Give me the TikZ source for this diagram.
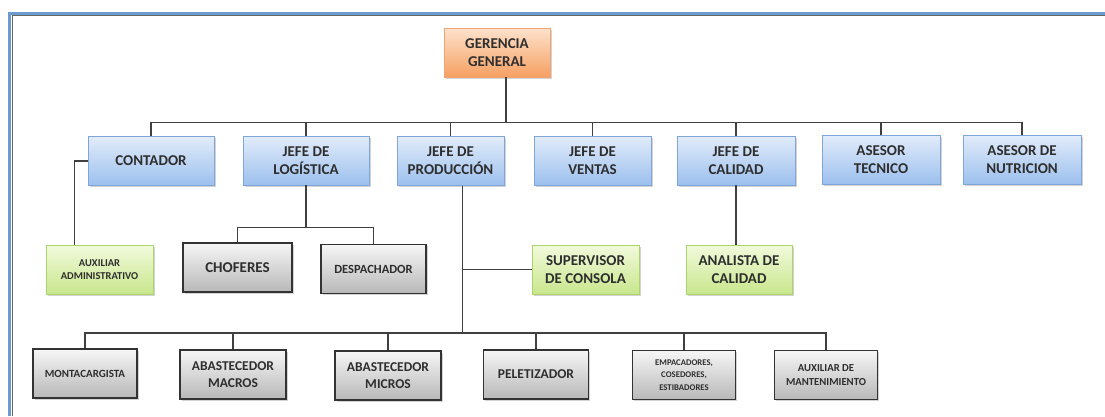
\documentclass[tikz,border=0pt]{standalone}
\usepackage{fontspec}
\setmainfont{Carlito}
\usetikzlibrary{positioning,shadows}
\definecolor{bluetop}{HTML}{E2ECFA}
\definecolor{bluebot}{HTML}{9CC0EE}
\definecolor{blueline}{HTML}{7FA6D8}
\definecolor{orangetop}{HTML}{FDE2CC}
\definecolor{orangebot}{HTML}{F6A062}
\definecolor{orangeline}{HTML}{F0A474}
\definecolor{greentop}{HTML}{F2FADC}
\definecolor{greenbot}{HTML}{C8E68C}
\definecolor{greenline}{HTML}{ADD46A}
\definecolor{greytop}{HTML}{F6F6F6}
\definecolor{greybot}{HTML}{B8B8B8}
\definecolor{frameblue}{HTML}{6C9BCF}

\begin{document}
\begin{tikzpicture}[
  x=1pt, y=-1pt,
  box/.style={rectangle, draw, line width=0.8pt, minimum width=118pt, minimum height=49pt, inner sep=2pt, align=center, text=black!82, font=\fontsize{15}{18}\selectfont\bfseries, drop shadow={shadow xshift=1.5pt, shadow yshift=-1.8pt, opacity=0.35}},
  gerente/.style={box, draw=orangeline, top color=orangetop, bottom color=orangebot},
  jefe/.style={box, draw=blueline, top color=bluetop, bottom color=bluebot},
  aux/.style={box, draw=greenline, top color=greentop, bottom color=greenbot},
  oper/.style={box, draw=black!80, line width=1.1pt, top color=greytop, bottom color=greybot},
  conn/.style={draw=black!75, line width=1.2pt},
]
\useasboundingbox (0,0) rectangle (1105,416);
% marco
\draw[frameblue, line width=3pt] (9.5,416) -- (9.5,13) -- (1105,13);
\draw[black!60, line width=0.8pt] (12,416) -- (12,15.5) -- (1105,15.5);

\node[gerente, minimum width=106pt] (gerencia) at (497,52.5) {GERENCIA\\GENERAL};
% nivel 1
\node[jefe, minimum width=126pt] (contador) at (151,161) {CONTADOR};
\node[jefe, minimum width=126pt] (logistica) at (306,160.5) {JEFE DE\\LOGÍSTICA};
\node[jefe, minimum width=107pt] (produccion) at (450.5,161) {JEFE DE\\PRODUCCIÓN};
\node[jefe, minimum width=117pt] (ventas) at (592.5,160.5) {JEFE DE\\VENTAS};
\node[jefe] (calidad) at (736,160.5) {JEFE DE\\CALIDAD};
\node[jefe] (tecnico) at (881,159.5) {ASESOR\\TECNICO};
\node[jefe] (nutricion) at (1022,159.5) {ASESOR DE\\NUTRICION};
% nivel 2
\node[aux, minimum width=107pt, font=\fontsize{10.5}{13}\selectfont\bfseries] (auxadm) at (99.5,269.5) {AUXILIAR\\ADMINISTRATIVO};
\node[oper, minimum width=109pt] (choferes) at (237.5,267.5) {CHOFERES};
\node[oper, minimum width=105pt, font=\fontsize{12.5}{16}\selectfont\bfseries] (despachador) at (373.5,269) {DESPACHADOR};
\node[aux, minimum width=107pt] (supervisor) at (585.5,269.5) {SUPERVISOR\\DE CONSOLA};
\node[aux, minimum width=106pt] (analista) at (739,269.5) {ANALISTA DE\\CALIDAD};
% nivel 3
\node[oper, minimum width=104pt, font=\fontsize{11}{14}\selectfont\bfseries] (montacarg) at (85,373.5) {MONTACARGISTA};
\node[oper, minimum width=106pt, font=\fontsize{13.5}{17}\selectfont\bfseries] (macros) at (233,374.5) {ABASTECEDOR\\MACROS};
\node[oper, minimum width=106pt, font=\fontsize{13.5}{17}\selectfont\bfseries] (micros) at (388,375.5) {ABASTECEDOR\\MICROS};
\node[oper, minimum width=105pt, font=\fontsize{13.5}{17}\selectfont\bfseries] (peletiz) at (536,374.5) {PELETIZADOR};
\node[oper, minimum width=103pt, font=\fontsize{8.7}{12.5}\selectfont\bfseries] (empac) at (684,375) {EMPACADORES,\\COSEDORES,\\ESTIBADORES};
\node[oper, minimum width=103pt, font=\fontsize{10.7}{14}\selectfont\bfseries] (auxmant) at (826,375) {AUXILIAR DE\\MANTENIMIENTO};

\draw[conn] ([xshift=9pt]gerencia.south) -- ++(0,45) coordinate (hub1);
\foreach \n in {contador,logistica,produccion,ventas,calidad,tecnico,nutricion}
  \draw[conn] (hub1) -| (\n.north);
\draw[conn] (contador.west) -- ++(-13,0) coordinate (c1) -- (c1 |- auxadm.north);
\draw[conn] (logistica.south) -- ++(0,42) coordinate (hub2);
\draw[conn] (hub2) -| (choferes.north);
\draw[conn] (hub2) -| (despachador.north);
\draw[conn] (calidad.south) -- (calidad.south |- analista.north);
\draw[conn] ([xshift=12pt]produccion.south) -- ++(0,147) coordinate (hub3);
\draw[conn] (supervisor.west) -- (supervisor.west -| hub3);
\foreach \n in {montacarg,macros,micros,peletiz,empac,auxmant}
  \draw[conn] (hub3) -| (\n.north);
\end{tikzpicture}
\end{document}
